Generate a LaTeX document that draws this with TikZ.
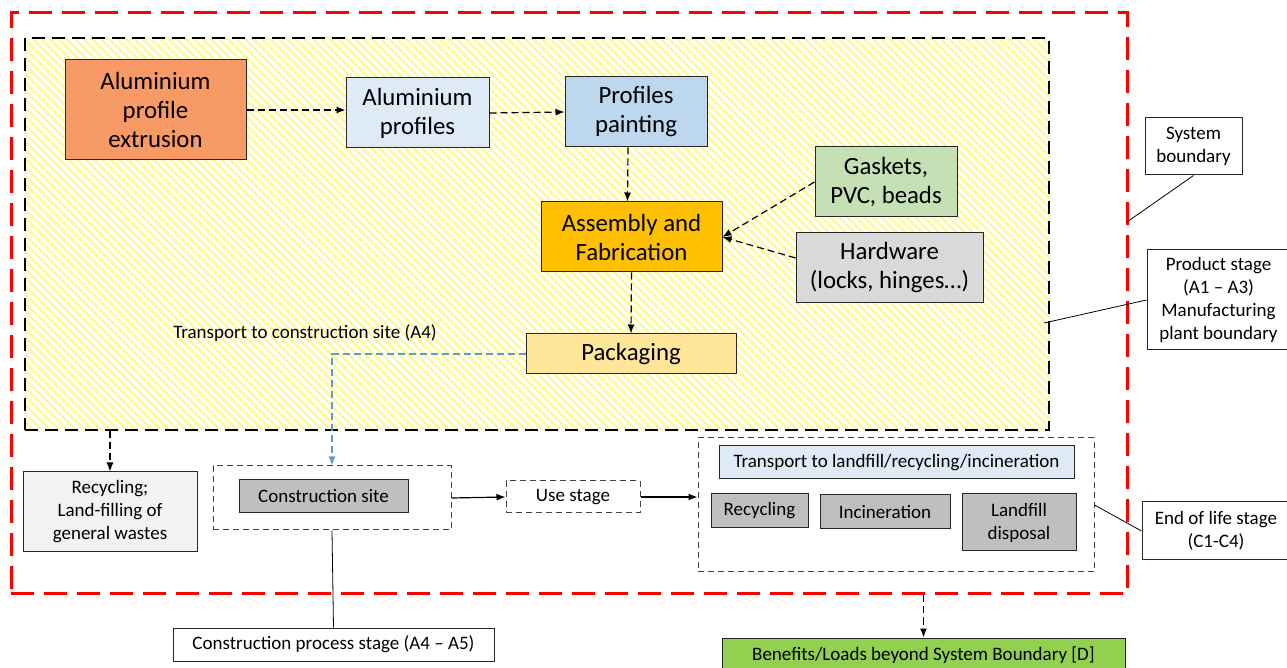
\documentclass[tikz,border=0pt]{standalone}
\usepackage{fontspec}
\setmainfont{Carlito}
\usetikzlibrary{positioning, arrows.meta, patterns.meta}

\definecolor{extcol}{RGB}{248,154,102}
\definecolor{lblue}{RGB}{222,235,247}
\definecolor{mblue}{RGB}{189,215,238}
\definecolor{amber}{RGB}{255,192,0}
\definecolor{lgreen}{RGB}{197,224,180}
\definecolor{lgray}{RGB}{217,217,217}
\definecolor{pack}{RGB}{255,230,153}
\definecolor{wgray}{RGB}{242,242,242}
\definecolor{mgray}{RGB}{191,191,191}
\definecolor{bgreen}{RGB}{146,208,80}
\definecolor{linkblue}{RGB}{91,155,213}
\definecolor{hatch}{RGB}{255,250,150}

\newcommand\bigtxt{\fontsize{12.4}{14.5}\selectfont}
\newcommand\smalltxt{\fontsize{9.5}{11.5}\selectfont}

\begin{document}
\begin{tikzpicture}[x=0.5pt, y=-0.5pt,
  box/.style={draw=black!85, line width=0.5pt, inner sep=1pt, align=center, font=\bigtxt},
  sbox/.style={draw=black!85, line width=0.5pt, inner sep=1pt, align=center, font=\smalltxt},
  stagebox/.style={draw=black!75, line width=0.5pt, dash pattern=on 3pt off 2pt, inner sep=0pt},
  flow/.style={line width=0.6pt, dash pattern=on 3.5pt off 2pt, -{Latex[length=4.5pt,width=3.5pt]}},
  solidflow/.style={line width=0.6pt, -{Latex[length=4.5pt,width=3.5pt]}},
  callout/.style={line width=0.4pt}]

  \useasboundingbox (0,0) rectangle (1287,668);
  \fill[white] (0,0) rectangle (1287,668);

  % boundaries
  \node[draw=red, line width=1.5pt, dash pattern=on 11.5pt off 5pt, minimum width=558pt, minimum height=290.5pt, inner sep=0pt] (sys) at (569,303.5) {};
  \node[fill=hatch!35, pattern={Lines[angle=-45,distance=3pt,line width=1.2pt]}, pattern color=hatch, minimum width=512pt, minimum height=196pt, inner sep=0pt] (plantbg) at (537,234) {};
  \node[draw=black, line width=1pt, dash pattern=on 6.5pt off 3.5pt, minimum width=512pt, minimum height=196pt, inner sep=0pt] (plant) at (537,234) {};

  % product stage
  \node[box, fill=extcol, minimum width=90.5pt, minimum height=50pt] (ext) at (155.5,110) {Aluminium\\profile\\extrusion};
  \node[box, fill=lblue, minimum width=71.5pt, minimum height=35pt] (prof) at (417.5,113) {Aluminium\\profiles};
  \node[box, fill=mblue, minimum width=71pt, minimum height=35pt] (paint) at (636,112) {Profiles\\painting};
  \node[box, fill=amber, minimum width=90.5pt, minimum height=35pt] (asm) at (631.5,237) {Assembly and\\Fabrication};
  \node[box, fill=lgreen, minimum width=71pt, minimum height=35pt] (gask) at (886,182) {Gaskets,\\PVC, beads};
  \node[box, fill=lgray, minimum width=93.5pt, minimum height=35pt] (hard) at (889.5,268) {Hardware\\(locks, hinges…)};
  \node[box, fill=pack, minimum width=105pt, minimum height=20pt] (pack) at (631,354) {Packaging};
  \node[font=\smalltxt] (trans) at (305,333) {Transport to construction site (A4)};

  % waste, construction, use
  \node[sbox, fill=wgray, minimum width=87pt, minimum height=40pt] (recy) at (110,512) {Recycling;\\Land-filling of\\general wastes};
  \node[stagebox, minimum width=119pt, minimum height=32pt] (cbox) at (332,498) {};
  \node[sbox, fill=mgray, minimum width=84.5pt, minimum height=16.5pt] (csite) at (323.5,496.5) {Construction site};
  \node[stagebox, font=\smalltxt, minimum width=67pt, minimum height=16pt] (use) at (573,497) {Use stage};

  % end of life
  \node[stagebox, minimum width=198pt, minimum height=67pt] (eol) at (896,505) {};
  \node[sbox, fill=lblue, minimum width=177.5pt, minimum height=16.5pt] (eoltrans) at (896.5,462.5) {Transport to landfill/recycling/incineration};
  \node[sbox, fill=mgray, minimum width=48.5pt, minimum height=17pt] (rec) at (759.5,511) {Recycling};
  \node[sbox, fill=mgray, minimum width=65pt, minimum height=17pt] (inc) at (885,512) {Incineration};
  \node[sbox, fill=mgray, minimum width=57pt, minimum height=28.5pt] (land) at (1019,522.5) {Landfill\\disposal};

  % labels
  \node[sbox, minimum width=48.5pt, minimum height=28.5pt] (sysb) at (1193.5,146.5) {System\\boundary};
  \node[sbox, minimum width=71.5pt, minimum height=50pt] (prodst) at (1218.5,300) {Product stage\\(A1 – A3)\\Manufacturing\\plant boundary};
  \node[sbox, minimum width=74pt, minimum height=29pt] (eolst) at (1216,531) {End of life stage\\(C1-C4)};
  \node[sbox, minimum width=160.5pt, minimum height=16.5pt] (cps) at (333.5,644.5) {Construction process stage (A4 – A5)};
  \node[sbox, fill=bgreen, minimum width=201.5pt, minimum height=17pt] (ben) at (923.5,655) {Benefits/Loads beyond System Boundary [D]};

  \coordinate (sysmark) at (1127,222);
  \coordinate (plantmark) at (1044,323);

  % flows
  \draw[flow] (ext.east) -- (ext.east -| prof.west);
  \draw[flow] (prof.east) -- (paint.west);
  \draw[flow] ([xshift=-4pt]paint.south) -- ([xshift=-2pt]asm.north);
  \draw[flow] (gask.west) -- (asm.east);
  \draw[flow] ([yshift=5pt]hard.west) -- (asm.east);
  \draw[flow] (asm.south) -- (pack.north);
  \draw[flow, draw=linkblue] (pack.west) -| (cbox.north);
  \draw[flow] (plant.south -| recy.north) -- (recy.north);
  \draw[solidflow] (cbox.east) -- (use.west);
  \draw[solidflow] (use.east) -- (use.east -| eol.west);
  \draw[flow] (sys.south -| ben.north) -- (ben.north);

  % callouts
  \draw[callout] (sysb.south) -- (sysmark);
  \draw[callout] (prodst.west) -- (plantmark);
  \draw[callout] (eolst.west) -- (eol.east);
  \draw[callout] (cps.north) -- (cbox.south);
\end{tikzpicture}
\end{document}
